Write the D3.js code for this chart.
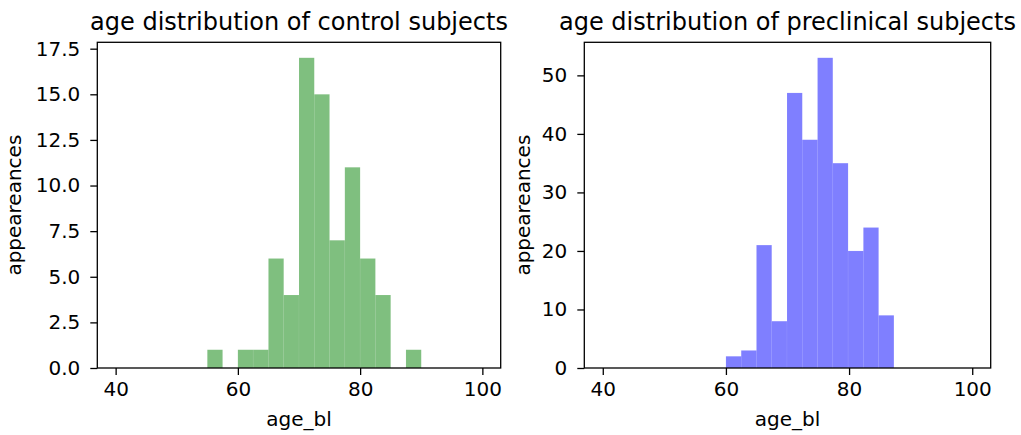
<!DOCTYPE html>
<html>
<head>
<meta charset="utf-8">
<script src="https://cdn.jsdelivr.net/npm/d3@7"></script>
<style>
  body { margin: 0; background: #fff; }
  text { font-family: "DejaVu Sans", sans-serif; fill: #000; }
</style>
</head>
<body>
<script>
// control subjects (green)
var controlEdges = [55, 57.5, 60, 62.5, 65, 67.5, 70, 72.5, 75, 77.5, 80, 82.5, 85, 87.5, 90];
var controlCounts = [1, 0, 1, 1, 6, 4, 17, 15, 7, 11, 6, 4, 0, 1];
var controlYTicks = [0, 2.5, 5, 7.5, 10, 12.5, 15, 17.5];

// preclinical subjects (blue)
var preEdges = [60, 62.48, 64.96, 67.44, 69.92, 72.4, 74.88, 77.36, 79.84, 82.32, 84.8, 87.28];
var preCounts = [2, 3, 21, 8, 47, 39, 53, 35, 20, 24, 9];
var preYTicks = [0, 10, 20, 30, 40, 50];

var xTicks = [40, 60, 80, 100];

var svg = d3.select("body")
            .append("svg")
            .attr("width", 1021)
            .attr("height", 435)

function panel(opts) {
  var left = opts.left, right = opts.right, top = 42.3, bottom = 368;

  var x = d3.scaleLinear().domain([37, 103]).range([left, right])
  var y = d3.scaleLinear().domain([0, d3.max(opts.counts) * 1.05]).range([bottom, top])

  var bins = opts.counts.map(function(c, i) {
    return {x0: opts.edges[i], x1: opts.edges[i + 1], n: c}
  })

  var g = svg.append("g")

  g.selectAll("rect.bar")
   .data(bins.filter(function(d) { return d.n > 0 }))
   .enter().append("rect")
   .attr("class", "bar")
   .attr("x", function(d) { return x(d.x0) })
   .attr("width", function(d) { return x(d.x1) - x(d.x0) })
   .attr("y", function(d) { return y(d.n) })
   .attr("height", function(d) { return y(0) - y(d.n) })
   .attr("fill", opts.color)
   .attr("fill-opacity", 0.5)
   .attr("stroke", "#fff")
   .attr("stroke-opacity", 0.12)
   .attr("stroke-width", 0.5)

  var xAxis = g.append("g")
   .attr("transform", "translate(0," + bottom + ")")
   .call(d3.axisBottom(x).tickValues(xTicks).tickSize(7).tickPadding(7).tickFormat(d3.format("d")))
  var yAxis = g.append("g")
   .attr("transform", "translate(" + left + ",0)")
   .call(d3.axisLeft(y).tickValues(opts.yTicks).tickSize(7).tickPadding(10).tickFormat(opts.yFormat))

  ;[xAxis, yAxis].forEach(function(a) {
    a.select(".domain").remove()
    a.selectAll(".tick line").attr("stroke", "#000").attr("stroke-width", 1.3)
    a.selectAll(".tick text").style("font-size", "20px").style("font-family", "DejaVu Sans").attr("fill", "#000")
  })

  g.append("rect")
   .attr("x", left).attr("y", top)
   .attr("width", right - left).attr("height", bottom - top)
   .attr("fill", "none")
   .attr("stroke", "#000")
   .attr("stroke-width", 1.3)

  g.append("text")
   .attr("x", (left + right) / 2).attr("y", 29.5)
   .attr("text-anchor", "middle")
   .style("font-size", "24px")
   .text(opts.title)

  g.append("text")
   .attr("x", (left + right) / 2).attr("y", 426)
   .attr("text-anchor", "middle")
   .style("font-size", "20px")
   .text("age_bl")

  g.append("text")
   .attr("transform", "translate(" + opts.ylabelX + "," + ((top + bottom) / 2) + ") rotate(-90)")
   .attr("text-anchor", "middle")
   .style("font-size", "20px")
   .text("appeareances")
}

panel({
  left: 97.3, right: 500.7,
  edges: controlEdges, counts: controlCounts,
  yTicks: controlYTicks, yFormat: d3.format(".1f"),
  color: "green",
  title: "age distribution of control subjects",
  ylabelX: 21
})

panel({
  left: 584.3, right: 990.7,
  edges: preEdges, counts: preCounts,
  yTicks: preYTicks, yFormat: d3.format("d"),
  color: "blue",
  title: "age distribution of preclinical subjects",
  ylabelX: 530
})
</script>
</body>
</html>
